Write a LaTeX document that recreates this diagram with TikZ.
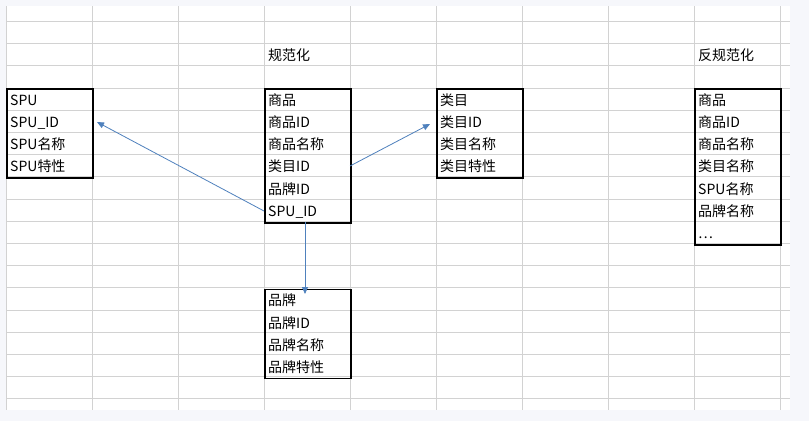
\documentclass[tikz,border=0pt]{standalone}
\usepackage{fontspec}
\setmainfont{Noto Sans CJK SC}
\newfontfamily\latinmono{Liberation Mono}
\begin{document}
\begin{tikzpicture}[x=1pt,y=-1pt,
  cell/.style={anchor=base west,inner sep=0pt,font=\fontsize{14}{14}\selectfont},
  box/.style={draw=black,line width=1.6pt},
  link/.style={draw={rgb,255:red,79;green,129;blue,189},line width=0.8pt,-{Triangle[length=7pt,width=6pt]}}]
\usetikzlibrary{arrows.meta}
\fill[fill={rgb,255:red,246;green,247;blue,251}] (0,0) rectangle (809,421);
\fill[white] (6,6) rectangle (790,410);
\foreach \i in {0,...,17} \draw[gray!35,line width=0.8pt] (6,{21.3+22.2*\i}) -- (790,{21.3+22.2*\i});
\foreach \i in {0,...,9} \draw[gray!35,line width=0.8pt] ({6+86*\i},6) -- ({6+86*\i},410);
\node[cell] (t1) at (268,60) {规范化};
\node[cell] (t2) at (698,60) {反规范化};
% SPU box
\node[box,inner sep=0pt,minimum width=86pt,minimum height=89pt,anchor=north west] (spu) at (6,88) {};
\foreach \t [count=\k] in {SPU,SPU\_ID,SPU名称,SPU特性}
  \node[cell] (spu\k) at (10,{88+22.2*\k-5}) {\t};
% item box
\node[box,inner sep=0pt,minimum width=86pt,minimum height=134pt,anchor=north west] (item) at (264,88) {};
\foreach \t [count=\k] in {商品,商品ID,商品名称,类目ID,品牌ID,SPU\_ID}
  \node[cell] (item\k) at (268,{88+22.2*\k-5}) {\t};
% category box
\node[box,inner sep=0pt,minimum width=86pt,minimum height=89pt,anchor=north west] (cat) at (436,88) {};
\foreach \t [count=\k] in {类目,类目ID,类目名称,类目特性}
  \node[cell] (cat\k) at (440,{88+22.2*\k-5}) {\t};
% brand box
\node[box,inner sep=0pt,minimum width=86pt,minimum height=89pt,anchor=north west] (brand) at (264,288.6) {};
\foreach \t [count=\k] in {品牌,品牌ID,品牌名称,品牌特性}
  \node[cell] (brand\k) at (268,{288.6+22.2*\k-5}) {\t};
% denormalized box
\node[box,inner sep=0pt,minimum width=86pt,minimum height=156pt,anchor=north west] (den) at (694,88) {};
\foreach \t [count=\k] in {商品,商品ID,商品名称,类目名称,SPU名称,品牌名称,…}
  \node[cell] (den\k) at (698,{88+22.2*\k-5}) {\t};
\coordinate (a1s) at (264,211);
\coordinate (a1e) at (97,122);
\coordinate (a2s) at (350,166);
\coordinate (a2e) at (430,124);
\coordinate (a3s) at (305,222);
\coordinate (a3e) at (305,294);
\draw[link] (a1s) -- (a1e);
\draw[link] (a2s) -- (a2e);
\draw[link] (a3s) -- (a3e);
\end{tikzpicture}
\end{document}
